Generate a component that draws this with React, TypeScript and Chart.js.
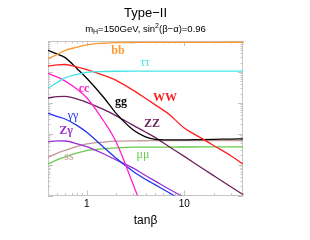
import React, { useEffect, useRef } from "react";
import { Chart, registerables } from "chart.js";

Chart.register(...registerables);

// tanβ sample points
const TANB = [0.4, 0.5, 0.6, 0.8, 1, 1.5, 2, 3, 4, 5, 7, 10, 15, 20, 30, 40];

// Branching ratios
const BR_BB = [0.264, 0.371, 0.5, 0.632, 0.747, 0.845, 0.884, 0.895, 0.9, 0.9, 0.903, 0.905, 0.905, 0.905, 0.91, 0.91];
const BR_TAUTAU = [0.0296, 0.046, 0.064, 0.084, 0.097, 0.103, 0.105, 0.106, 0.106, 0.106, 0.106, 0.106, 0.106, 0.106, 0.106, 0.106];
const BR_WW = [0.154, 0.168, 0.174, 0.143, 0.119, 0.0769, 0.053, 0.0252, 0.014, 0.00877, 0.00423, 0.00153, 7.2e-4, 4.17e-4, 1.95e-4, 1.05e-4];
const BR_CC = [0.09, 0.0675, 0.0504, 0.0272, 0.0146, 0.00249, 5.43e-4, 2.23e-5, 2.1e-6];
const BR_GG = [0.5, 0.374, 0.29, 0.125, 0.0627, 0.0146, 0.00455, 0.00132, 7.9e-4, 6.6e-4, 6.37e-4, 6.37e-4, 6.5e-4, 6.6e-4, 6.75e-4, 6.85e-4];
const BR_ZZ = [0.0143, 0.016, 0.0163, 0.0131, 0.0104, 0.006, 0.00379, 0.00187, 0.00114, 7.64e-4, 3.82e-4, 1.85e-4, 7.98e-5, 4.42e-5, 1.93e-5, 1.08e-5];
const BR_GAMGAM = [4.55e-3, 3.6e-3, 3.0e-3, 1.83e-3, 1.11e-3, 3.58e-4, 1.61e-4, 6.05e-5, 3.38e-5, 2.26e-5, 1.24e-5, 6.5e-6];
const BR_ZGAM = [5.5e-4, 5.9e-4, 5.83e-4, 4.75e-4, 3.82e-4, 2.21e-4, 1.42e-4, 7.7e-5, 4.45e-5, 2.98e-5, 1.6e-5, 8.7e-6];
const BR_SS = [1.71e-4, 2.38e-4, 2.9e-4, 3.94e-4, 4.69e-4, 5.38e-4, 5.74e-4, 5.92e-4, 5.95e-4, 5.98e-4, 6.0e-4, 6.0e-4, 6.02e-4, 6.03e-4, 6.05e-4, 6.05e-4];
const BR_MUMU = [1.05e-4, 1.45e-4, 1.8e-4, 2.42e-4, 2.86e-4, 3.3e-4, 3.5e-4, 3.68e-4, 3.7e-4, 3.72e-4, 3.72e-4, 3.73e-4, 3.74e-4, 3.74e-4, 3.74e-4, 3.74e-4];

const SERIES_NAMES = ["bb", "ττ", "WW", "cc", "gg", "ZZ", "γγ", "Zγ", "ss", "μμ"];
const SERIES_VALUES = [BR_BB, BR_TAUTAU, BR_WW, BR_CC, BR_GG, BR_ZZ, BR_GAMGAM, BR_ZGAM, BR_SS, BR_MUMU];
const SERIES_COLORS = ["#ff9933", "#44e5e5", "#ff2020", "#ff22cc", "#000000", "#6e1f5e", "#2233ee", "#9b30d0", "#c39a98", "#66cc4d"];

// label anchor positions (tanβ, BR)
const LABEL_TANB = [2.09, 3.95, 6.34, 0.935, 2.24, 4.66, 0.721, 0.612, 0.656, 3.77];
const LABEL_BR = [0.483, 0.201, 0.0146, 0.0281, 0.0109, 2.04e-3, 3.94e-3, 1.23e-3, 1.78e-4, 2.13e-4];
const LABEL_BOLD = [true, false, true, true, true, true, false, true, false, false];

const X_MIN = 0.4;
const X_MAX = 40;
const Y_MIN = 1e-5;
const Y_MAX = 1;
const X_TICK_LABELS = [1, 10];

const TITLE = "Type−II";

const decoPlugin = {
  id: "deco",
  beforeDatasetsDraw(chart: any) {
    const { ctx, chartArea: a, scales } = chart;
    const x = scales.x;
    const y = scales.y;
    ctx.save();
    ctx.strokeStyle = "#c4c4c4";
    ctx.lineWidth = 1;
    ctx.strokeRect(Math.round(a.left) + 0.5, Math.round(a.top) + 0.5, Math.round(a.width) - 1, Math.round(a.height) - 1);
    ctx.beginPath();
    for (const d of [0.1, 1, 10]) {
      for (let m = 1; m <= 9; m++) {
        const v = m * d;
        if (v < X_MIN - 1e-9 || v > X_MAX + 1e-9) continue;
        const px = Math.round(x.getPixelForValue(v)) + 0.5;
        const len = m === 1 ? 5 : 2.5;
        ctx.moveTo(px, a.bottom);
        ctx.lineTo(px, a.bottom - len);
        ctx.moveTo(px, a.top);
        ctx.lineTo(px, a.top + len);
      }
    }
    for (let e = -5; e <= 0; e++) {
      for (let m = 1; m <= 9; m++) {
        const v = m * Math.pow(10, e);
        if (v < Y_MIN * 0.999 || v > Y_MAX * 1.001) continue;
        const py = Math.round(y.getPixelForValue(v)) + 0.5;
        const len = m === 1 ? 5 : 2.5;
        ctx.moveTo(a.left, py);
        ctx.lineTo(a.left + len, py);
        ctx.moveTo(a.right, py);
        ctx.lineTo(a.right - len, py);
      }
    }
    ctx.stroke();
    ctx.restore();
  },
  afterDatasetsDraw(chart: any) {
    const { ctx, scales } = chart;
    ctx.save();
    ctx.textAlign = "center";
    ctx.textBaseline = "middle";
    SERIES_NAMES.forEach((name, i) => {
      ctx.font = `${LABEL_BOLD[i] ? "bold " : ""}12px "Liberation Serif"`;
      ctx.fillStyle = SERIES_COLORS[i];
      ctx.fillText(name, scales.x.getPixelForValue(LABEL_TANB[i]), scales.y.getPixelForValue(LABEL_BR[i]));
    });
    ctx.restore();
  },
  afterDraw(chart: any) {
    const { ctx, chartArea: a } = chart;
    const cx = (a.left + a.right) / 2;
    ctx.save();
    ctx.fillStyle = "#000";
    ctx.textBaseline = "alphabetic";
    ctx.textAlign = "center";
    ctx.font = '13px "Liberation Sans"';
    ctx.fillText(TITLE, cx, 17);
    // subtitle with sub/superscripts
    const big = '9.5px "Liberation Sans"';
    const small = '7px "Liberation Sans"';
    const parts: [string, string, number][] = [
      ["m", big, 0],
      ["H", small, 2],
      ["=150GeV, sin", big, 0],
      ["2", small, -4],
      ["(β−α)=0.96", big, 0],
    ];
    let total = 0;
    for (const [t, f] of parts) {
      ctx.font = f;
      total += ctx.measureText(t).width;
    }
    let xx = cx - total / 2;
    ctx.textAlign = "left";
    for (const [t, f, dy] of parts) {
      ctx.font = f;
      ctx.fillText(t, xx, 32 + dy);
      xx += ctx.measureText(t).width;
    }
    ctx.restore();
  },
};

export default function App() {
  const ref = useRef<HTMLCanvasElement>(null);
  useEffect(() => {
    if (!ref.current) return;
    const datasets = SERIES_NAMES.map((name, i) => ({
      label: name,
      data: SERIES_VALUES[i].map((v, j) => ({ x: TANB[j], y: v })),
      borderColor: SERIES_COLORS[i],
      backgroundColor: SERIES_COLORS[i],
      borderWidth: 1.3,
      pointRadius: 0,
      fill: false,
      cubicInterpolationMode: "monotone" as const,
    }));
    const chart = new Chart(ref.current, {
      type: "line",
      data: { datasets },
      options: {
        animation: false,
        responsive: false,
        layout: { padding: { left: 48, right: 67, top: 41, bottom: 12 } },
        plugins: { legend: { display: false }, tooltip: { enabled: false }, title: { display: false } },
        scales: {
          x: {
            type: "logarithmic",
            min: X_MIN,
            max: X_MAX,
            grid: { display: false, drawTicks: false },
            border: { display: false },
            afterBuildTicks: (axis: any) => {
              axis.ticks = X_TICK_LABELS.map((v) => ({ value: v }));
            },
            ticks: {
              autoSkip: false,
              maxRotation: 0,
              padding: 3,
              color: "#000",
              font: { family: "Liberation Sans", size: 10 },
              callback: (v: any) => String(v),
            },
            title: {
              display: true,
              text: "tanβ",
              color: "#000",
              font: { family: "Liberation Sans", size: 12 },
              padding: { top: 0, bottom: 0 },
            },
          },
          y: { type: "logarithmic", min: Y_MIN, max: Y_MAX, display: false },
        },
      },
      plugins: [decoPlugin],
    });
    return () => chart.destroy();
  }, []);
  return (
    <div style={{ position: "fixed", left: 0, top: 0, width: 310, height: 240, background: "#fff" }}>
      <canvas ref={ref} width={310} height={240} style={{ display: "block" }} />
    </div>
  );
}
